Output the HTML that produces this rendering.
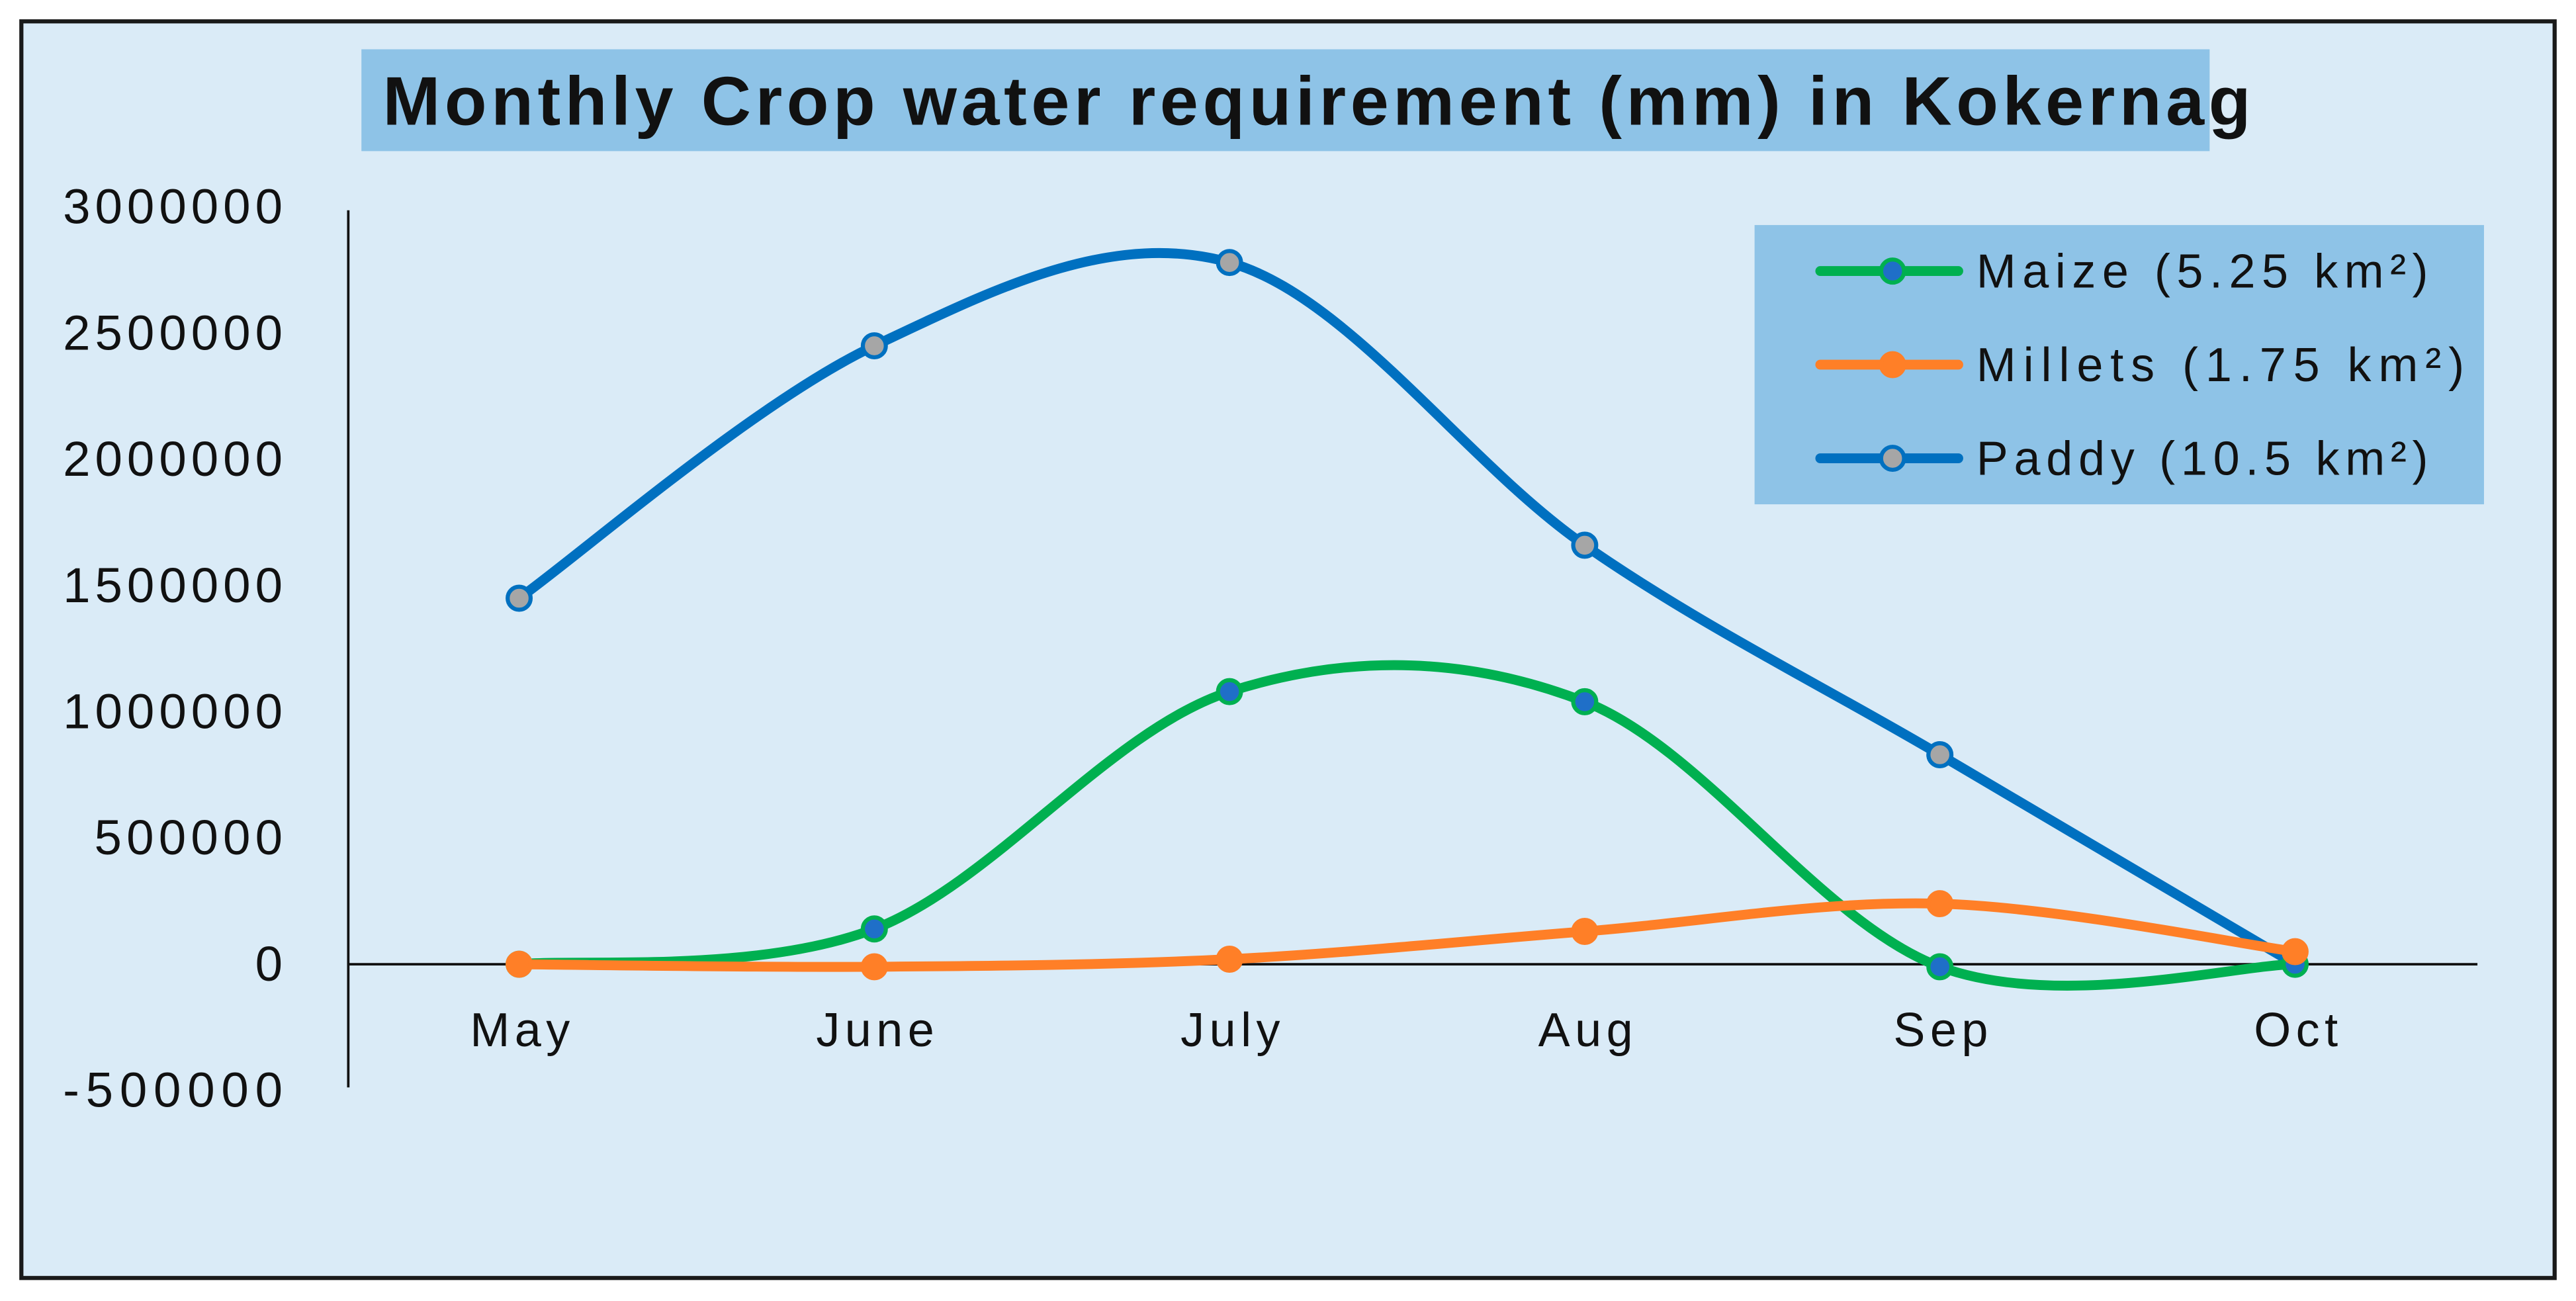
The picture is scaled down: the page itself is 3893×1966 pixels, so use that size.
<!DOCTYPE html>
<html><head><meta charset="utf-8"><style>
html,body{margin:0;padding:0;background:#fff;}
svg{display:block;}
text{font-family:"Liberation Sans",sans-serif;}
</style></head><body>
<svg id="chart" width="3893" height="1966" viewBox="0 0 1568 792" preserveAspectRatio="none" xmlns="http://www.w3.org/2000/svg">
<rect x="13" y="13" width="1542" height="765" fill="#DAEBF7" stroke="#1a1a1a" stroke-width="2.5"/>
<rect x="220" y="30" width="1125" height="62" fill="#8EC3E7"/>
<text x="233" y="76" font-size="42" font-weight="bold" fill="#111" textLength="1137" lengthAdjust="spacing">Monthly Crop water requirement (mm) in Kokernag</text>
<g id="axes"></g>
<g id="series"></g>
<rect x="1068" y="137" width="444" height="170" fill="#8EC3E7"/>
<g id="legend"></g>
</svg>
<script>
const categories = ["May","June","July","Aug","Sep","Oct"];
const yTicks = [3000000,2500000,2000000,1500000,1000000,500000,0,-500000];
const tickLabels = ["3000000","2500000","2000000","1500000","1000000","500000","0","-500000"];
const maize = [0,140000,1080000,1040000,-10000,0];
const millets = [0,-10000,20000,130000,240000,50000];
const paddy = [1450000,2450000,2780000,1660000,830000,0];
const seriesNames = ["Maize (5.25 km²)","Millets (1.75 km²)","Paddy (10.5 km²)"];

const NS="http://www.w3.org/2000/svg";
const x = i => 316 + i*216.2;
const y = v => 587 - v*(461/3000000);
function mk(tag, attrs, parent){const e=document.createElementNS(NS,tag);for(const k in attrs)e.setAttribute(k,attrs[k]);parent.appendChild(e);return e;}
const axes=document.getElementById('axes');
let e=mk('line',{x1:212,y1:128,x2:212,y2:662,stroke:'#111','stroke-width':1.5},axes);


e=mk('line',{x1:212,y1:y(0),x2:1508,y2:y(0),stroke:'#111','stroke-width':1.5},axes);


yTicks.forEach((v,i)=>{
  const s=tickLabels[i];
  const t=mk('text',{x:172,y:y(v)+10,'text-anchor':'end','font-size':30,fill:'#111',textLength:s.length*19.1,lengthAdjust:'spacing'},axes);
  t.textContent=s;
  
  
});
categories.forEach((c,i)=>{
  const t=mk('text',{x:x(i)+2,y:637,'text-anchor':'middle','font-size':29,fill:'#111','letter-spacing':3},axes);
  t.textContent=c;
  
  
});
function smooth(vals){
  const p=vals.map((v,i)=>[x(i),y(v)]);
  let d=`M${p[0][0]},${p[0][1]}`;
  for(let i=0;i<p.length-1;i++){
    const p0=p[i-1]||p[i],p1=p[i],p2=p[i+1],p3=p[i+2]||p[i+1];
    const c1=[p1[0]+(p2[0]-p0[0])/6,p1[1]+(p2[1]-p0[1])/6];
    const c2=[p2[0]-(p3[0]-p1[0])/6,p2[1]-(p3[1]-p1[1])/6];
    d+=` C${c1[0]},${c1[1]} ${c2[0]},${c2[1]} ${p2[0]},${p2[1]}`;
  }
  return d;
}
const sdefs=[
  {data:maize,color:'#00B050',fill:'#1F6FC8',stroke:'#00B050',name:'maize'},
  {data:millets,color:'#FF7F27',fill:'#FF7F27',stroke:'#FF7F27',name:'millets'},
  {data:paddy,color:'#0070C0',fill:'#A6A6A6',stroke:'#0070C0',name:'paddy'}
];
const legendLens=[275,297,275];
const sg=document.getElementById('series');
[2,0,1].forEach(k=>{
  const s=sdefs[k];
  const pth=mk('path',{d:smooth(s.data),fill:'none',stroke:s.color,'stroke-width':6,'stroke-linecap':'round'},sg);
  
  
  s.data.forEach((v,i)=>{
    const c=mk('circle',{cx:x(i),cy:y(v),r:7,fill:s.fill,stroke:s.stroke,'stroke-width':2.5},sg);
    
    
  });
});
const lg=document.getElementById('legend');
sdefs.forEach((s,i)=>{
  const ly=165+i*57;
  const l=mk('line',{x1:1108,y1:ly,x2:1192,y2:ly,stroke:s.color,'stroke-width':6,'stroke-linecap':'round'},lg);
  
  
  const c=mk('circle',{cx:1152,cy:ly,r:7,fill:s.fill,stroke:s.stroke,'stroke-width':2.5},lg);
  
  
  const t=mk('text',{x:1203,y:ly+10,'font-size':29,fill:'#111',textLength:legendLens[i],lengthAdjust:'spacing'},lg);
  t.textContent=seriesNames[i];
  
  
});
</script>
</body></html>
